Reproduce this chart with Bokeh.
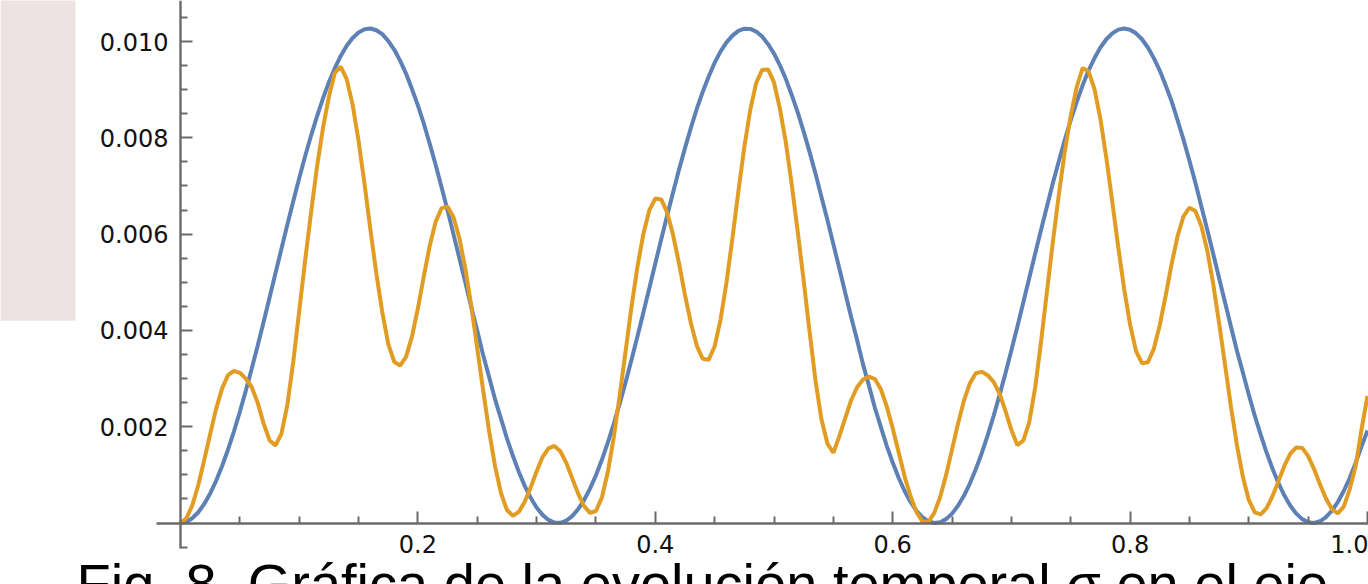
from bokeh.plotting import figure
from bokeh.models import Range1d, FixedTicker, PrintfTickFormatter, BoxAnnotation, Label, ColumnDataSource
from bokeh.embed import file_html
from bokeh.resources import INLINE

# ---- data ----
blue_step = 0.005
blue_vals = [
    0.0, 0.000025, 0.0001, 0.000224, 0.000396, 0.000614, 0.000876, 0.00118, 0.001522, 0.0019,
    0.00231, 0.002745, 0.003205, 0.003683, 0.004176, 0.004677, 0.005186, 0.005691, 0.006195, 0.006684,
    0.007161, 0.007617, 0.008047, 0.008447, 0.008816, 0.009152, 0.009447, 0.009701, 0.009912, 0.010074,
    0.010188, 0.010254, 0.01027, 0.010234, 0.010152, 0.010014, 0.009833, 0.009604, 0.009335, 0.009015,
    0.008674, 0.008293, 0.007874, 0.007436, 0.006969, 0.006493, 0.005995, 0.005495, 0.004993, 0.004479,
    0.003994, 0.003485, 0.003034, 0.002569, 0.002168, 0.001759, 0.001397, 0.001064, 0.000771, 0.000523,
    0.000321, 0.000169, 0.000064, 0.000009, 0.000004, 0.000049, 0.000143, 0.000287, 0.000477, 0.000714,
    0.000993, 0.001312, 0.001668, 0.002059, 0.002479, 0.002926, 0.003394, 0.003881, 0.004377, 0.00488,
    0.005388, 0.005892, 0.006387, 0.006872, 0.007342, 0.007786, 0.00821, 0.008604, 0.008958, 0.009275,
    0.00956, 0.009794, 0.009983, 0.010123, 0.010221, 0.010266, 0.010261, 0.010207, 0.010103, 0.009946,
    0.009751, 0.009506, 0.00922, 0.008885, 0.008529, 0.008128, 0.007703, 0.007252, 0.006773, 0.006293,
    0.005792, 0.005293, 0.004784, 0.004279, 0.003799, 0.003295, 0.002853, 0.002392, 0.001996, 0.001603,
    0.001255, 0.00094, 0.000666, 0.000437, 0.000254, 0.000121, 0.000036, 0.000001, 0.000016, 0.000081,
    0.000195, 0.000357, 0.000566, 0.00082, 0.001115, 0.001449, 0.001821, 0.002223, 0.002656, 0.00311,
    0.003586, 0.004075, 0.004578, 0.005083, 0.005591, 0.006092, 0.006581, 0.007067, 0.007517, 0.007958,
    0.008367, 0.008744, 0.00909, 0.009398, 0.009657, 0.009876, 0.010047, 0.010169, 0.010247, 0.01027,
    0.010245, 0.010171, 0.010047, 0.009876, 0.009655, 0.009397, 0.009088, 0.008756, 0.008365, 0.007962,
    0.007525, 0.007065, 0.006581, 0.006092, 0.005591, 0.005084, 0.004578, 0.004077, 0.003576, 0.003124,
    0.002666, 0.002229, 0.001837, 0.001463, 0.001126, 0.000827, 0.000571, 0.000358, 0.000195, 0.000081,
    0.000016, 0.000001, 0.000036, 0.000121, 0.000255, 0.000436, 0.000664, 0.000934, 0.001247, 0.001596,
    0.00192,
]

orange_step = 0.005
orange_vals = [
    0.0, 0.0001, 0.00037, 0.00079, 0.00131, 0.00185, 0.00237, 0.00279, 0.00307, 0.00316,
    0.00312, 0.00300, 0.00282, 0.00250, 0.00207, 0.00172, 0.00161, 0.00185, 0.00245, 0.00335,
    0.00440, 0.00545, 0.00645, 0.00740, 0.00820, 0.00885, 0.00935, 0.00948, 0.00922, 0.00869,
    0.00794, 0.00705, 0.00609, 0.00518, 0.00438, 0.00372, 0.00335, 0.00327, 0.00345, 0.00387,
    0.00446, 0.00513, 0.00576, 0.00626, 0.00654, 0.00657, 0.00635, 0.00591, 0.00528, 0.00450,
    0.00363, 0.00275, 0.00191, 0.00118, 0.00062, 0.00027, 0.00015, 0.00023, 0.00044, 0.00074,
    0.00107, 0.00137, 0.00155, 0.00160, 0.00149, 0.00125, 0.00093, 0.00061, 0.00035, 0.00021,
    0.00025, 0.00053, 0.00106, 0.00178, 0.00265, 0.00357, 0.00450, 0.00533, 0.00601, 0.00650,
    0.00674, 0.00672, 0.00645, 0.00598, 0.00539, 0.00474, 0.00415, 0.00368, 0.00341, 0.00339,
    0.00367, 0.00423, 0.00500, 0.00592, 0.00689, 0.00781, 0.00858, 0.00914, 0.00941, 0.00942,
    0.00915, 0.00860, 0.00790, 0.00702, 0.00605, 0.00503, 0.00397, 0.00295, 0.00215, 0.00165,
    0.00146, 0.00180, 0.00218, 0.00255, 0.00282, 0.00298, 0.00304, 0.00299, 0.00278, 0.00242,
    0.00197, 0.00147, 0.00097, 0.00056, 0.00023, 0.00003, 0.00002, 0.00021, 0.00054, 0.00100,
    0.00153, 0.00206, 0.00254, 0.00290, 0.00311, 0.00314, 0.00307, 0.00293, 0.00269, 0.00233,
    0.00193, 0.00162, 0.00171, 0.00209, 0.00281, 0.00377, 0.00482, 0.00585, 0.00683, 0.00772,
    0.00846, 0.00905, 0.00945, 0.00938, 0.00901, 0.00839, 0.00758, 0.00667, 0.00573, 0.00486,
    0.00412, 0.00357, 0.00332, 0.00334, 0.00362, 0.00411, 0.00473, 0.00538, 0.00596, 0.00637,
    0.00655, 0.00648, 0.00617, 0.00566, 0.00497, 0.00415, 0.00328, 0.00241, 0.00162, 0.00096,
    0.00048, 0.00022, 0.00018, 0.00031, 0.00056, 0.00087, 0.00119, 0.00144, 0.00157, 0.00156,
    0.00139, 0.00112, 0.00080, 0.00051, 0.00029, 0.00020, 0.00034, 0.00070, 0.00118, 0.00195,
    0.00264,
]

x_major = [0.2, 0.4, 0.6, 0.8, 1.0]
x_minor = [0.05, 0.1, 0.15, 0.25, 0.3, 0.35, 0.45, 0.5, 0.55, 0.65, 0.7, 0.75, 0.85, 0.9, 0.95]
y_major = [0.002, 0.004, 0.006, 0.008, 0.010]
y_minor = [-0.0005, 0.0005, 0.001, 0.0015, 0.0025, 0.003, 0.0035, 0.0045, 0.005, 0.0055,
           0.0065, 0.007, 0.0075, 0.0085, 0.009, 0.0095, 0.0105]

caption = "Fig. 8. Gráfica de la evolución temporal σ en el eje"

blue_t = [round(i * blue_step, 4) for i in range(len(blue_vals))]
orange_t = [round(i * orange_step, 4) for i in range(len(orange_vals))]

# ---- figure ----
p = figure(width=1368, height=584, output_backend="svg", toolbar_location=None,
           x_range=Range1d(-0.15164, 1.00084), y_range=Range1d(-0.001277, 0.010852),
           min_border=0, min_border_left=0, min_border_right=0,
           min_border_top=0, min_border_bottom=0)
p.outline_line_color = None
p.grid.visible = False
p.background_fill_color = "white"
p.border_fill_color = "white"

# faint watermark area in the left margin
p.add_layout(BoxAnnotation(left=-0.1517, right=-0.0885, top=0.0109, bottom=0.0042,
                           fill_color="#EDE3E3", fill_alpha=1.0, line_color=None, level="underlay"))

src_b = ColumnDataSource(dict(t=blue_t, v=blue_vals))
src_o = ColumnDataSource(dict(t=orange_t, v=orange_vals))
p.line("t", "v", source=src_b, line_color="#5E81B5", line_width=4)
p.line("t", "v", source=src_o, line_color="#E19C24", line_width=4)

for ax in (p.xaxis[0], p.yaxis[0]):
    ax.fixed_location = 0
    ax.axis_line_color = "#6A6A6A"
    ax.axis_line_width = 2.4
    ax.major_tick_line_color = "#6A6A6A"
    ax.minor_tick_line_color = "#6A6A6A"
    ax.major_tick_line_width = 2
    ax.minor_tick_line_width = 2
    ax.major_tick_in = 12
    ax.major_tick_out = 0
    ax.minor_tick_in = 7
    ax.minor_tick_out = 0
    ax.major_label_text_font = "DejaVu Sans"
    ax.major_label_text_font_size = "24px"
    ax.major_label_text_color = "#111111"
    ax.major_label_standoff = 12

p.xaxis.ticker = FixedTicker(ticks=x_major, minor_ticks=x_minor)
p.yaxis.ticker = FixedTicker(ticks=y_major, minor_ticks=y_minor)
p.xaxis.formatter = PrintfTickFormatter(format="%.1f")
p.yaxis.formatter = PrintfTickFormatter(format="%.3f")
p.xaxis.bounds = (-0.02, 1.001)
p.yaxis.bounds = (-0.00052, 0.010852)

p.add_layout(Label(x=-0.0876, y=-0.00126, text=caption, text_font="Liberation Sans",
                   text_font_size="56px", text_color="black", text_baseline="alphabetic",
                   level="overlay"))

open("out.html", "w").write(file_html(p, INLINE))
